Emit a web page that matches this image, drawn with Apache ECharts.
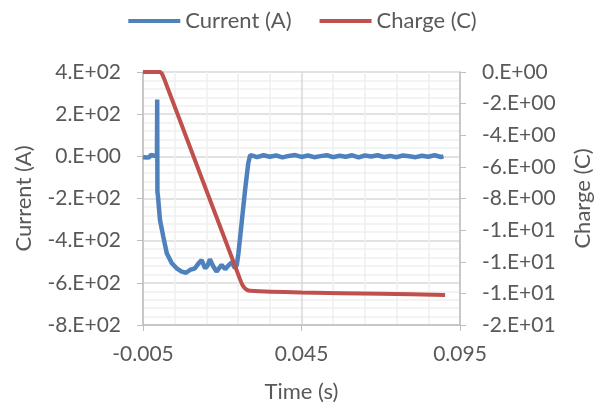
<!DOCTYPE html>
<html>
<head>
<meta charset="utf-8">
<script src="https://cdn.jsdelivr.net/npm/echarts@6/dist/echarts.min.js"></script>
<style>
  html, body { margin: 0; padding: 0; background: #fff; }
  #chart { width: 605px; height: 409px; }
</style>
</head>
<body>
<div id="chart"></div>
<script>
// values
var currentTime = [-0.005, -0.0045, -0.004, -0.0035, -0.003, -0.0025, -0.002, -0.0015, -0.001, -0.0006,
    -0.00052, -0.00045, -0.0003, 0.00036, 0.0014, 0.0025, 0.0041, 0.0056, 0.0072, 0.0086,
    0.0098, 0.0114, 0.0124, 0.0135, 0.0146, 0.0153, 0.0161, 0.0171, 0.0182, 0.0198,
    0.0209, 0.0218, 0.0230, 0.0240, 0.0246, 0.0251, 0.0256, 0.0261, 0.0272, 0.0282, 0.0288,
    0.0295, 0.031, 0.033, 0.035, 0.037, 0.039, 0.041, 0.043, 0.045, 0.047, 0.049,
    0.051, 0.053, 0.055, 0.057, 0.059, 0.061, 0.063, 0.065, 0.067, 0.069, 0.071,
    0.073, 0.075, 0.077, 0.079, 0.081, 0.083, 0.085, 0.087, 0.089, 0.0898];
var currentValue = [-3, 4, -6, 2, -4, 7, -2, 3, -5, 0,
    270, -170, -185, -302, -381, -460, -507, -531, -547, -552,
    -539, -531, -510, -492, -531, -520, -488, -520, -547, -515,
    -535, -520, -503, -530, -515, -460, -390, -318, -160, -33, 5,
    3, -4, 5, -2, 4, -5, 2, 6, -3, 4, -4,
    1, 5, -4, 3, -2, 5, -5, 4, -1, 5, -3,
    2, -4, 4, 0, -4, 3, -2, 5, -3, 0];

var chargeTime = [-0.005, 0.0004, 0.0008, 0.0012, 0.0016, 0.002, 0.013, 0.0224, 0.0256,
    0.0262, 0.0268, 0.0276, 0.0288, 0.045, 0.07, 0.0903];
var chargeValue = [0, 0, -0.06, -0.2, -0.4, -0.6, -6.43, -11.4, -13.1,
    -13.4, -13.6, -13.75, -13.84, -13.95, -14.03, -14.1];

var leftTicks = [400, -800, 200];   // max, min, step
var rightTicks = [0, -16, 2];
var timeTicks = [-0.005, 0.095, 0.05];

function pairs(xs, ys) {
    var out = [];
    for (var i = 0; i < xs.length; i++) out.push([xs[i], ys[i]]);
    return out;
}

// Excel "0.E+00" style
function sci(v) {
    if (Math.abs(v) < 1e-9) return '0.E+00';
    var e = Math.floor(Math.log10(Math.abs(v)));
    var m = Math.round(v / Math.pow(10, e));
    if (Math.abs(m) >= 10) { m = m / 10; e++; }
    var ae = Math.abs(e);
    return m + '.E' + (e < 0 ? '-' : '+') + (ae < 10 ? '0' : '') + ae;
}

var FONT = 'Lato';
var TXT = '#595959';
var FS = 21;

var chart = echarts.init(document.getElementById('chart'));

var option = {
    animation: false,
    textStyle: { fontFamily: FONT },
    legend: {
        top: 5,
        left: 'center',
        icon: 'rect',
        itemWidth: 52,
        itemHeight: 4,
        itemGap: 28,
        textStyle: { fontFamily: FONT, fontSize: 22, color: TXT },
        data: ['Current (A)', 'Charge (C)']
    },
    grid: { left: 143, right: 145, top: 72, bottom: 84 },
    xAxis: {
        type: 'value',
        min: timeTicks[0],
        max: timeTicks[1],
        interval: timeTicks[2],
        name: 'Time (s)',
        nameLocation: 'middle',
        nameGap: 56,
        nameTextStyle: { fontFamily: FONT, fontSize: 22, color: TXT },
        axisLine: { show: true, onZero: false, lineStyle: { color: '#bfbfbf', width: 1.5 } },
        axisTick: { show: true, length: 6, lineStyle: { color: '#bfbfbf' } },
        axisLabel: {
            margin: 19, fontFamily: FONT, fontSize: FS, color: TXT,
            formatter: function (v) { return v.toFixed(3); }
        },
        splitLine: { show: true, lineStyle: { color: '#d9d9d9', width: 1.5 } },
        minorTick: { show: false, splitNumber: 5 },
        minorSplitLine: { show: true, lineStyle: { color: '#f0f0f0', width: 1.5 } }
    },
    yAxis: [{
        type: 'value',
        position: 'left',
        max: leftTicks[0],
        min: leftTicks[1],
        interval: leftTicks[2],
        name: 'Current (A)',
        nameLocation: 'middle',
        nameGap: 108,
        nameTextStyle: { fontFamily: FONT, fontSize: 22, color: TXT },
        axisLine: { show: true, onZero: false, lineStyle: { color: '#bfbfbf', width: 1.5 } },
        axisTick: { show: true, length: 6, lineStyle: { color: '#bfbfbf' } },
        axisLabel: { margin: 22, fontFamily: FONT, fontSize: FS, color: TXT, formatter: sci },
        splitLine: { show: true, lineStyle: { color: '#d9d9d9', width: 1.5 } },
        minorTick: { show: false, splitNumber: 5 },
        minorSplitLine: { show: true, lineStyle: { color: '#f0f0f0', width: 1.5 } }
    }, {
        type: 'value',
        position: 'right',
        max: rightTicks[0],
        min: rightTicks[1],
        interval: rightTicks[2],
        name: 'Charge (C)',
        nameLocation: 'middle',
        nameRotate: 90,
        nameGap: 112,
        nameTextStyle: { fontFamily: FONT, fontSize: 22, color: TXT },
        axisLine: { show: true, onZero: false, lineStyle: { color: '#bfbfbf', width: 1.5 } },
        axisTick: { show: true, length: 6, lineStyle: { color: '#bfbfbf' } },
        axisLabel: { margin: 22, fontFamily: FONT, fontSize: FS, color: TXT, formatter: sci },
        splitLine: { show: false }
    }],
    series: [{
        name: 'Current (A)',
        type: 'line',
        yAxisIndex: 0,
        showSymbol: false,
        color: '#4F81BD',
        lineStyle: { width: 4.5, color: '#4F81BD' },
        data: pairs(currentTime, currentValue)
    }, {
        name: 'Charge (C)',
        type: 'line',
        yAxisIndex: 1,
        showSymbol: false,
        smooth: 0.2,
        color: '#C0504D',
        lineStyle: { width: 4, color: '#C0504D' },
        data: pairs(chargeTime, chargeValue)
    }]
};

chart.setOption(option);
</script>
</body>
</html>
